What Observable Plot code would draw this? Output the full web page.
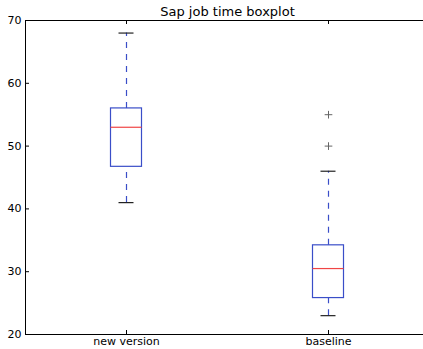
<!DOCTYPE html>
<html>
<head>
<meta charset="utf-8">
<script src="https://cdn.jsdelivr.net/npm/d3@7"></script>
<script src="https://cdn.jsdelivr.net/npm/@observablehq/plot@0.6"></script>
<style>
  html, body { margin: 0; padding: 0; background: #fff; overflow: hidden; }
  #chart svg { display: block; }
</style>
</head>
<body>
<div id="chart"></div>
<script>
// ---- data ----
const title = "Sap job time boxplot";
const categories = ["new version", "baseline"];
const whiskerLow = [41, 23];
const q1 = [46.7, 25.8];
const median = [53, 30.5];
const q3 = [56, 34.2];
const whiskerHigh = [68, 46];
const outlierGroup = ["baseline", "baseline"];
const outlierValues = [55, 50];
const yTicks = [20, 30, 40, 50, 60, 70];

// ---- tables built from the arrays ----
const boxes = categories.map((c, i) => ({
  c, lo: whiskerLow[i], q1: q1[i], med: median[i], q3: q3[i], hi: whiskerHigh[i]
}));
const outliers = outlierGroup.map((c, i) => ({ c, v: outlierValues[i] }));

const blue = "#3a4ec8";
const red = "#f04545";
const W = 429, H = 349;
const mL = 25, mR = 0, mT = 20, mB = 15;
const frameW = W - mL - mR;   // 404
const frameH = H - mT - mB;   // 314
const band = frameW / categories.length;
const boxInset = (band - 31) / 2;
const capInset = (band - 15) / 2;
const tickLen = 4;

const chart = Plot.plot({
  width: W,
  height: H,
  marginLeft: mL,
  marginRight: mR,
  marginTop: mT,
  marginBottom: mB,
  style: { fontFamily: "DejaVu Sans, sans-serif", fontSize: "11px", color: "#000", background: "#fff", maxWidth: "none" },
  x: { type: "band", domain: categories, padding: 0, label: null },
  y: { domain: [20, 70], label: null },
  marks: [
    // whiskers
    Plot.ruleX(boxes, { x: "c", y1: "lo", y2: "q1", stroke: blue, strokeWidth: 1.2, strokeDasharray: "6,6" }),
    Plot.ruleX(boxes, { x: "c", y1: "q3", y2: "hi", stroke: blue, strokeWidth: 1.2, strokeDasharray: "6,6" }),
    // boxes
    Plot.barY(boxes, { x: "c", y1: "q1", y2: "q3", fill: "none", stroke: blue, strokeWidth: 1.2, insetLeft: boxInset, insetRight: boxInset }),
    // medians
    Plot.tickY(boxes, { x: "c", y: "med", stroke: red, strokeWidth: 1.2, insetLeft: boxInset, insetRight: boxInset }),
    // caps
    Plot.tickY(boxes, { x: "c", y: "lo", stroke: "#222", strokeWidth: 1.2, insetLeft: capInset, insetRight: capInset }),
    Plot.tickY(boxes, { x: "c", y: "hi", stroke: "#222", strokeWidth: 1.2, insetLeft: capInset, insetRight: capInset }),
    // outliers
    Plot.dot(outliers, { x: "c", y: "v", symbol: "plus", r: 2.6, stroke: "#666", strokeWidth: 1 }),
    // frame (axes spines)
    Plot.frame({ stroke: "#000", strokeWidth: 1 }),
    // inward tick marks
    Plot.tickY(yTicks, { y: d => d, stroke: "#000", insetRight: frameW - tickLen }),
    Plot.tickY(yTicks, { y: d => d, stroke: "#000", insetLeft: frameW - tickLen }),
    Plot.tickX(categories, { x: d => d, stroke: "#000", insetBottom: frameH - tickLen }),
    Plot.tickX(categories, { x: d => d, stroke: "#000", insetTop: frameH - tickLen }),
    // axes labels
    Plot.axisY({ ticks: yTicks, tickSize: 0, tickPadding: 4, fontSize: 11, tickFormat: d => String(d) }),
    Plot.axisX({ tickSize: 0, tickPadding: 3, fontSize: 11 }),
    // title
    Plot.text([title], { frameAnchor: "top", lineAnchor: "bottom", dy: -5, fontSize: 13, fill: "#000" })
  ]
});
document.getElementById("chart").appendChild(chart);
</script>
</body>
</html>
